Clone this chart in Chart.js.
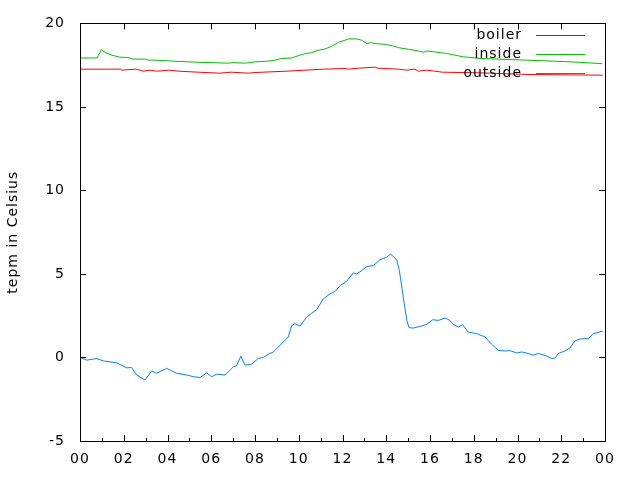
<!DOCTYPE html>
<html>
<head>
<meta charset="utf-8">
<script src="https://cdn.jsdelivr.net/npm/chart.js@4/dist/chart.umd.min.js"></script>
<style>
  html, body { margin: 0; padding: 0; background: #fff; }
  #wrap { width: 640px; height: 480px; }
</style>
</head>
<body>
<div id="wrap"><canvas id="chart" width="640" height="480"></canvas></div>
<script>
// values, x in hours of the day
const boilerHours = [0, 1.86, 1.89, 2.53, 2.74, 2.9, 3.2, 3.5, 4.09, 4.5, 5.4, 6.39, 6.9, 7.7, 8.0,
    9.45, 10.29, 11.13, 12.11, 12.27, 12.73, 13.49, 13.6, 14.55, 14.93, 15.31, 15.47, 15.85, 16.1, 16.57,
    18.29, 20.57, 23.9];
const boilerTemps = [17.26, 17.26, 17.2, 17.26, 17.2, 17.14, 17.2, 17.14, 17.2, 17.14, 17.08, 17.02, 17.08, 17.02, 17.06,
    17.14, 17.2, 17.26, 17.3, 17.26, 17.32, 17.38, 17.32, 17.26, 17.2, 17.26, 17.14, 17.2, 17.16, 17.08,
    17.04, 16.94, 16.9];

const insideHours = [0, 0.79, 0.97, 1.2, 1.43, 1.81, 2.19, 2.42, 3.03, 3.11, 3.42, 4.26, 5.24, 6.74, 7.0,
    7.56, 8.0, 8.61, 8.91, 9.22, 9.68, 9.98, 10.29, 10.59, 10.9, 11.2, 11.51, 11.81, 12.11, 12.27,
    12.65, 12.88, 13.11, 13.33, 13.49, 13.94, 14.32, 14.55, 15.01, 15.47, 15.7, 15.85, 16.23, 16.76,
    17.52, 18.29, 20.42, 22.4, 23.77, 23.88];
const insideTemps = [17.93, 17.93, 18.43, 18.23, 18.11, 17.98, 17.96, 17.86, 17.86, 17.8, 17.8, 17.74, 17.68, 17.62, 17.65,
    17.62, 17.7, 17.74, 17.8, 17.9, 17.93, 18.07, 18.19, 18.25, 18.39, 18.47, 18.63, 18.87, 18.99, 19.07,
    19.07, 18.99, 18.79, 18.85, 18.79, 18.75, 18.65, 18.55, 18.45, 18.35, 18.27, 18.35, 18.29, 18.2,
    18.0, 17.9, 17.8, 17.7, 17.6, 17.58];

const outsideHours = [0, 0.31, 0.76, 1.05, 1.68, 2.13, 2.36, 2.59, 2.97, 3.28, 3.51, 3.96, 4.42, 4.88, 5.18,
    5.49, 5.79, 6.02, 6.25, 6.63, 7.01, 7.16, 7.35, 7.54, 7.85, 8.15, 8.38, 8.61, 8.84, 9.14,
    9.52, 9.68, 9.83, 10.06, 10.36, 10.59, 10.82, 11.12, 11.43, 11.66, 11.89, 12.19, 12.49, 12.65, 12.88,
    13.11, 13.41, 13.71, 14.02, 14.2, 14.48, 14.6, 14.78, 14.94, 15.04, 15.24, 15.54, 15.85, 16.12, 16.38,
    16.69, 16.91, 17.07, 17.29, 17.49, 17.75, 18.13, 18.51, 18.82, 19.12, 19.43, 19.66, 19.96, 20.19, 20.49,
    20.72, 20.95, 21.26, 21.56, 21.71, 21.87, 22.17, 22.4, 22.63, 22.86, 23.24, 23.47, 23.9];
const outsideTemps = [0.0, -0.16, -0.06, -0.2, -0.32, -0.62, -0.6, -1.05, -1.35, -0.8, -0.95, -0.65, -0.95, -1.05, -1.15,
    -1.2, -0.92, -1.15, -1.0, -1.05, -0.56, -0.5, 0.08, -0.46, -0.4, -0.06, 0.0, 0.2, 0.33, 0.73,
    1.23, 1.92, 2.02, 1.88, 2.42, 2.65, 2.86, 3.51, 3.81, 3.95, 4.3, 4.56, 5.06, 5.0, 5.2,
    5.45, 5.5, 5.85, 6.0, 6.2, 5.83, 5.2, 3.6, 2.22, 1.79, 1.76, 1.86, 1.98, 2.26, 2.22,
    2.36, 2.22, 1.98, 1.82, 1.96, 1.52, 1.43, 1.23, 0.79, 0.43, 0.39, 0.41, 0.27, 0.33, 0.24,
    0.14, 0.24, 0.12, -0.06, -0.04, 0.24, 0.39, 0.57, 0.99, 1.11, 1.13, 1.43, 1.58];

const seriesNames = ["boiler", "inside", "outside"];
const seriesColors = ["#ff0000", "#00c000", "#0080ff"];

const FONT = "DejaVu Sans";

function toPoints(xs, ys) {
    return xs.map((x, i) => ({ x: x, y: ys[i] }));
}

// gnuplot spreads its letters a little
const spacingPlugin = {
    id: "spacing",
    beforeLayout(chart) { chart.ctx.letterSpacing = "1px"; },
    beforeDraw(chart) { chart.ctx.letterSpacing = "1px"; }
};

// gnuplot style frame with inward ticks, plus the key in the top right corner
const framePlugin = {
    id: "frame",
    afterDatasetsDraw(chart) {
        const ctx = chart.ctx;
        const a = chart.chartArea;
        const xs = chart.scales.x;
        const ys = chart.scales.y;
        ctx.save();
        ctx.strokeStyle = "#000";
        ctx.lineWidth = 1;
        ctx.strokeRect(Math.round(a.left) + 0.5, Math.round(a.top) + 0.5,
            Math.round(a.right - a.left), Math.round(a.bottom - a.top));
        ctx.beginPath();
        for (let h = 0; h <= 24; h++) {
            const px = Math.round(xs.getPixelForValue(h)) + 0.5;
            const len = h % 2 === 0 ? 6 : 3;
            ctx.moveTo(px, a.bottom);
            ctx.lineTo(px, a.bottom - len);
            if (h % 2 === 0) {
                ctx.moveTo(px, a.top);
                ctx.lineTo(px, a.top + len);
            }
        }
        for (let v = -5; v <= 20; v += 5) {
            const py = Math.round(ys.getPixelForValue(v)) + 0.5;
            ctx.moveTo(a.left, py);
            ctx.lineTo(a.left + 6, py);
            ctx.moveTo(a.right, py);
            ctx.lineTo(a.right - 6, py);
        }
        ctx.stroke();

        // key
        ctx.font = "14px '" + FONT + "'";
        ctx.textAlign = "right";
        ctx.textBaseline = "middle";
        const rowY = [35, 54, 73];
        chart.data.datasets.forEach((ds, i) => {
            ctx.fillStyle = "#000";
            ctx.fillText(ds.label, 522, rowY[i]);
            ctx.strokeStyle = ds.borderColor;
            ctx.beginPath();
            ctx.moveTo(536, rowY[i] + 0.5);
            ctx.lineTo(585, rowY[i] + 0.5);
            ctx.stroke();
        });
        ctx.restore();
    }
};

new Chart(document.getElementById("chart").getContext("2d"), {
    type: "line",
    data: {
        datasets: [
            { label: seriesNames[0], data: toPoints(boilerHours, boilerTemps), borderColor: seriesColors[0] },
            { label: seriesNames[1], data: toPoints(insideHours, insideTemps), borderColor: seriesColors[1] },
            { label: seriesNames[2], data: toPoints(outsideHours, outsideTemps), borderColor: seriesColors[2] }
        ]
    },
    options: {
        responsive: false,
        animation: false,
        layout: { padding: { left: 0, top: 21, right: 35, bottom: 0 } },
        elements: {
            point: { radius: 0 },
            line: { borderWidth: 1, tension: 0, fill: false }
        },
        plugins: {
            legend: { display: false },
            tooltip: { enabled: false }
        },
        scales: {
            x: {
                type: "linear",
                min: 0,
                max: 24,
                grid: { display: false, drawTicks: false },
                border: { display: false },
                afterFit(scale) { scale.height = 39; },
                ticks: {
                    stepSize: 2,
                    autoSkip: false,
                    maxRotation: 0,
                    padding: 10,
                    color: "#000",
                    font: { family: FONT, size: 14 },
                    callback: v => String(v % 24).padStart(2, "0")
                }
            },
            y: {
                min: -5,
                max: 20,
                grid: { display: false, drawTicks: false },
                border: { display: false },
                afterFit(scale) { scale.width = 80; },
                ticks: {
                    stepSize: 5,
                    padding: 15,
                    color: "#000",
                    font: { family: FONT, size: 14 }
                },
                title: {
                    display: true,
                    text: "tepm in Celsius",
                    color: "#000",
                    padding: { top: 5, bottom: 0 },
                    font: { family: FONT, size: 14 }
                }
            }
        }
    },
    plugins: [spacingPlugin, framePlugin]
});
</script>
</body>
</html>
